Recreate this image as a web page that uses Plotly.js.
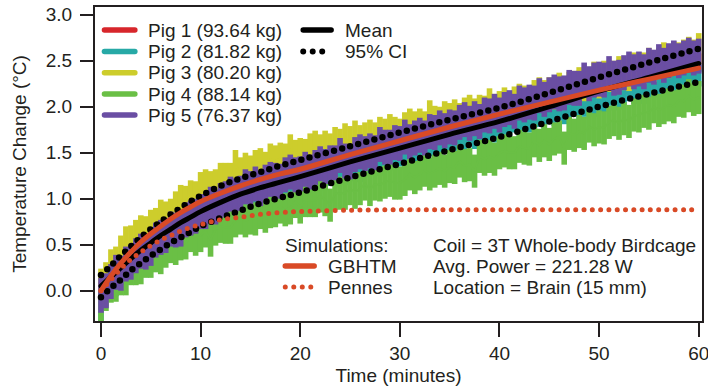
<!DOCTYPE html>
<html>
<head>
<meta charset="utf-8">
<script src="https://cdn.plot.ly/plotly-3.0.1.min.js"></script>
<style>
html,body{margin:0;padding:0;background:#fff;}
#chart{width:708px;height:389px;}
.scatterlayer .js-line{stroke-linecap:round;}
.shapelayer path{stroke-linecap:round;}
</style>
</head>
<body>
<div id="chart"></div>
<script>
// time grid of the measured pig data (minutes)
const timePig = [0,0.5,1,1.5,2,2.5,3,3.5,4,4.5,5,5.5,6,6.5,7,7.5,8,8.5,9,9.5,
10,10.5,11,11.5,12,12.5,13,13.5,14,14.5,15,15.5,16,16.5,17,17.5,18,18.5,19,19.5,
20,20.5,21,21.5,22,22.5,23,23.5,24,24.5,25,25.5,26,26.5,27,27.5,28,28.5,29,29.5,
30,30.5,31,31.5,32,32.5,33,33.5,34,34.5,35,35.5,36,36.5,37,37.5,38,38.5,39,39.5,
40,40.5,41,41.5,42,42.5,43,43.5,44,44.5,45,45.5,46,46.5,47,47.5,48,48.5,49,49.5,
50,50.5,51,51.5,52,52.5,53,53.5,54,54.5,55,55.5,56,56.5,57,57.5,58,58.5,59,59.5,60];

const pig1 = [-0.01,0.04,0.16,0.16,0.26,0.30,0.38,0.38,0.43,0.52,
0.49,0.58,0.61,0.63,0.70,0.69,0.70,0.79,0.81,0.82,
0.89,0.87,0.92,0.98,0.94,1.01,1.00,1.05,1.08,1.05,
1.12,1.11,1.17,1.13,1.18,1.22,1.18,1.22,1.26,1.22,
1.28,1.28,1.34,1.30,1.30,1.36,1.41,1.37,1.41,1.37,
1.45,1.47,1.45,1.45,1.52,1.50,1.50,1.58,1.54,1.58,
1.55,1.61,1.63,1.59,1.67,1.65,1.68,1.67,1.74,1.71,
1.73,1.72,1.78,1.81,1.77,1.82,1.78,1.86,1.84,1.90,
1.87,1.94,1.89,1.93,1.95,1.93,1.99,1.98,2.03,2.00,
1.98,2.06,2.09,2.07,2.11,2.08,2.17,2.14,2.14,2.20,
2.18,2.22,2.19,2.24,2.28,2.24,2.28,2.28,2.35,2.30,
2.33,2.37,2.32,2.38,2.41,2.39,2.38,2.45,2.48,2.45,
2.48];

const pig2 = [-0.21,-0.05,0.05,0.06,0.19,0.20,0.27,0.29,0.39,0.38,
0.43,0.44,0.53,0.58,0.56,0.63,0.61,0.70,0.70,0.77,
0.76,0.84,0.80,0.85,0.88,0.86,0.93,0.92,0.98,0.95,
0.94,1.01,1.05,1.03,1.07,1.04,1.13,1.10,1.10,1.15,
1.14,1.19,1.15,1.21,1.24,1.21,1.26,1.25,1.33,1.27,
1.31,1.35,1.30,1.36,1.39,1.37,1.37,1.43,1.47,1.43,
1.47,1.45,1.52,1.47,1.53,1.53,1.58,1.54,1.57,1.63,
1.58,1.64,1.65,1.64,1.70,1.66,1.66,1.73,1.74,1.73,
1.79,1.75,1.79,1.84,1.79,1.85,1.84,1.87,1.90,1.86,
1.93,1.91,1.97,1.93,1.98,2.01,1.98,2.01,2.05,2.01,
2.07,2.06,2.13,2.08,2.09,2.14,2.18,2.15,2.18,2.15,
2.22,2.24,2.22,2.22,2.28,2.27,2.26,2.34,2.29,2.34,
2.34];

const pig3 = [0.07,0.14,0.28,0.31,0.43,0.53,0.54,0.60,0.65,0.64,
0.71,0.73,0.82,0.80,0.83,0.91,0.98,0.97,1.03,1.02,
1.12,1.15,1.13,1.15,1.22,1.22,1.22,1.36,1.28,1.33,
1.30,1.36,1.38,1.34,1.43,1.41,1.44,1.43,1.53,1.47,
1.49,1.48,1.54,1.57,1.53,1.57,1.54,1.61,1.59,1.65,
1.62,1.68,1.63,1.66,1.69,1.66,1.72,1.70,1.75,1.72,
1.70,1.77,1.81,1.78,1.81,1.78,1.90,1.84,1.83,1.89,
1.87,1.91,1.87,1.93,1.96,1.92,1.96,1.95,2.03,1.97,
2.00,2.04,1.99,2.05,2.08,2.06,2.05,2.12,2.15,2.12,
2.15,2.14,2.20,2.16,2.21,2.22,2.26,2.23,2.25,2.32,
2.26,2.33,2.33,2.33,2.38,2.35,2.34,2.42,2.42,2.42,
2.47,2.44,2.47,2.53,2.48,2.54,2.53,2.56,2.59,2.56,
2.63];

const pig4 = [-0.17,-0.04,0.05,0.06,0.13,0.13,0.24,0.24,0.25,0.32,
0.32,0.38,0.36,0.43,0.48,0.46,0.51,0.52,0.60,0.56,
0.60,0.65,0.55,0.67,0.70,0.69,0.69,0.76,0.79,0.76,
0.79,0.78,0.85,0.81,0.86,0.87,0.91,0.88,0.90,0.97,
0.91,0.98,0.98,0.98,1.03,0.99,0.93,1.06,1.06,1.06,
1.11,1.07,1.11,1.16,1.10,1.16,1.15,1.18,1.20,1.17,
1.17,1.21,1.27,1.23,1.27,1.31,1.27,1.30,1.33,1.30,
1.35,1.34,1.41,1.36,1.37,1.30,1.46,1.43,1.46,1.43,
1.50,1.52,1.50,1.50,1.57,1.55,1.54,1.63,1.58,1.63,
1.59,1.65,1.67,1.55,1.71,1.69,1.73,1.71,1.79,1.75,
1.78,1.77,1.83,1.86,1.82,1.87,1.84,1.91,1.90,1.95,
1.93,2.00,1.96,1.99,2.02,2.00,2.07,2.06,2.12,2.08,
2.10];

const pig5 = [-0.05,0.00,0.10,0.20,0.19,0.29,0.31,0.38,0.43,0.42,
0.46,0.55,0.58,0.60,0.67,0.66,0.67,0.77,0.79,0.81,
0.86,0.86,0.94,0.91,0.98,1.00,1.05,1.03,1.06,1.13,
1.11,1.16,1.11,1.18,1.21,1.20,1.19,1.26,1.29,1.26,
1.27,1.32,1.29,1.34,1.38,1.35,1.39,1.39,1.47,1.41,
1.40,1.48,1.51,1.49,1.52,1.50,1.59,1.56,1.56,1.61,
1.60,1.67,1.62,1.66,1.69,1.66,1.73,1.72,1.77,1.74,
1.78,1.77,1.83,1.86,1.82,1.87,1.84,1.91,1.90,1.95,
1.91,1.97,1.99,1.95,2.04,2.02,2.05,2.04,2.12,2.08,
2.13,2.16,2.14,2.15,2.21,2.20,2.20,2.29,2.25,2.29,
2.30,2.29,2.36,2.31,2.32,2.37,2.41,2.38,2.41,2.38,
2.45,2.43,2.49,2.45,2.50,2.53,2.50,2.53,2.56,2.53,
2.55];

// smooth curves (statistics and simulations)
const timeFit = [0,1,2,3,4,5,6,7,8,9,10,12,14,16,18,20,25,30,35,40,45,50,55,60];
const meanCurve = [0.05,0.15,0.25,0.35,0.44,0.52,0.60,0.67,0.74,0.80,0.86,0.96,1.05,1.12,1.18,1.24,1.40,1.55,1.70,1.84,2.00,2.17,2.32,2.47];
const ciUpper = [0.17,0.27,0.38,0.48,0.58,0.67,0.75,0.83,0.90,0.97,1.03,1.14,1.22,1.29,1.36,1.42,1.57,1.72,1.86,1.99,2.15,2.32,2.48,2.63];
const ciLower = [-0.07,0.03,0.12,0.22,0.30,0.38,0.45,0.52,0.58,0.64,0.70,0.79,0.87,0.95,1.01,1.07,1.23,1.38,1.53,1.67,1.84,2.00,2.14,2.27];
const gbhtm = [0.00,0.16,0.30,0.42,0.53,0.62,0.70,0.78,0.85,0.91,0.97,1.06,1.14,1.21,1.27,1.32,1.48,1.63,1.78,1.92,2.05,2.18,2.30,2.42];
const pennes = [0.00,0.12,0.24,0.34,0.42,0.49,0.55,0.60,0.65,0.69,0.72,0.77,0.80,0.83,0.85,0.86,0.875,0.88,0.88,0.88,0.88,0.88,0.88,0.88];

const pigNames = ['Pig 1 (93.64 kg)','Pig 2 (81.82 kg)','Pig 3 (80.20 kg)','Pig 4 (88.14 kg)','Pig 5 (76.37 kg)'];
const pigColors = ['#d7262b','#27a9a6','#cdcd2c','#6abf45','#6a4ea3'];
const pigSpread = [0.10,0.12,0.17,0.18,0.19];
const pigData = [pig1,pig2,pig3,pig4,pig5];
const xTicks = [0,10,20,30,40,50,60];
const yTicks = [0,0.5,1,1.5,2,2.5,3];
const simColor = '#d94a26';
const textColor = '#231f20';

const traces = [];
pigData.forEach((vals,i)=>{
  traces.push({
    x: timePig, y: vals, type:'scatter', mode:'lines', name: pigNames[i],
    line:{color:pigColors[i], width:2},
    error_y:{type:'constant', value:pigSpread[i], symmetric:true, color:pigColors[i], thickness:5.6, width:0},
    hoverinfo:'skip'
  });
});
traces.push({x:timeFit, y:meanCurve, type:'scatter', mode:'lines', name:'Mean',
  line:{color:'#000', width:5, shape:'spline'}});
traces.push({x:timeFit, y:ciUpper, type:'scatter', mode:'lines', name:'95% CI',
  line:{color:'#000', width:6.5, shape:'spline', dash:'0px,8.4px'}});
traces.push({x:timeFit, y:ciLower, type:'scatter', mode:'lines', name:'95% CI low',
  line:{color:'#000', width:6.5, shape:'spline', dash:'0px,8.4px'}});
traces.push({x:timeFit, y:gbhtm, type:'scatter', mode:'lines', name:'GBHTM',
  line:{color:simColor, width:5, shape:'spline'}});
traces.push({x:timeFit, y:pennes, type:'scatter', mode:'lines', name:'Pennes',
  line:{color:simColor, width:5, shape:'spline', dash:'0px,8.3px'}});

// legend built from shapes + annotations (data-coordinate placement)
const fontSize = 19;
const shapes = [];
const annotations = [];
const pigRowsY = [2.834,2.600,2.370,2.138,1.910];
pigNames.forEach((n,i)=>{
  shapes.push({type:'line', xref:'x', yref:'y', x0:0.35, x1:3.4, y0:pigRowsY[i], y1:pigRowsY[i],
    line:{color:pigColors[i], width:5.5}});
  annotations.push({xref:'x', yref:'y', x:4.5, y:pigRowsY[i], text:n, showarrow:false,
    xanchor:'left', yanchor:'middle', font:{size:fontSize, color:textColor}});
});
shapes.push({type:'line', xref:'x', yref:'y', x0:20.3, x1:23.1, y0:2.834, y1:2.834, line:{color:'#000', width:5.5}});
shapes.push({type:'line', xref:'x', yref:'y', x0:20.3, x1:23.1, y0:2.600, y1:2.600, line:{color:'#000', width:6, dash:'0px,9.5px'}});
annotations.push({xref:'x', yref:'y', x:24.3, y:2.834, text:'Mean', showarrow:false, xanchor:'left', yanchor:'middle', font:{size:fontSize, color:textColor}});
annotations.push({xref:'x', yref:'y', x:24.3, y:2.600, text:'95% CI', showarrow:false, xanchor:'left', yanchor:'middle', font:{size:fontSize, color:textColor}});

annotations.push({xref:'x', yref:'y', x:18.3, y:0.497, text:'Simulations:', showarrow:false, xanchor:'left', yanchor:'middle', font:{size:fontSize, color:textColor}});
shapes.push({type:'line', xref:'x', yref:'y', x0:18.5, x1:21.4, y0:0.268, y1:0.268, line:{color:simColor, width:5.5}});
shapes.push({type:'line', xref:'x', yref:'y', x0:18.5, x1:21.3, y0:0.040, y1:0.040, line:{color:simColor, width:5, dash:'0px,8.5px'}});
annotations.push({xref:'x', yref:'y', x:22.6, y:0.268, text:'GBHTM', showarrow:false, xanchor:'left', yanchor:'middle', font:{size:fontSize, color:textColor}});
annotations.push({xref:'x', yref:'y', x:22.6, y:0.040, text:'Pennes', showarrow:false, xanchor:'left', yanchor:'middle', font:{size:fontSize, color:textColor}});
annotations.push({xref:'x', yref:'y', x:33.1, y:0.497, text:'Coil = 3T Whole-body Birdcage', showarrow:false, xanchor:'left', yanchor:'middle', font:{size:fontSize, color:textColor}});
annotations.push({xref:'x', yref:'y', x:33.1, y:0.268, text:'Avg. Power = 221.28 W', showarrow:false, xanchor:'left', yanchor:'middle', font:{size:fontSize, color:textColor}});
annotations.push({xref:'x', yref:'y', x:33.1, y:0.040, text:'Location = Brain (15 mm)', showarrow:false, xanchor:'left', yanchor:'middle', font:{size:fontSize, color:textColor}});

const layout = {
  width:708, height:389,
  margin:{l:95, r:6, t:7, b:68},
  paper_bgcolor:'#fff', plot_bgcolor:'#fff',
  showlegend:false,
  font:{family:'"Liberation Sans", Arial, sans-serif', size:19, color:textColor},
  xaxis:{range:[-0.6,60.33], tickvals:xTicks, ticktext:xTicks.map(String), ticks:'outside', ticklen:14, tickwidth:2,
    tickcolor:textColor, showline:true, linewidth:2, linecolor:textColor, mirror:true, showgrid:false, zeroline:false,
    ticklabeloverflow:'allow',
    tickfont:{size:19}, title:{text:'Time (minutes)', font:{size:19}, standoff:6}},
  yaxis:{range:[-0.329,3.084], tickvals:yTicks, ticktext:yTicks.map(v=>v.toFixed(1)), ticks:'outside', ticklen:13, tickwidth:2,
    tickcolor:textColor, showline:true, linewidth:2, linecolor:textColor, mirror:true, showgrid:false, zeroline:false,
    ticklabelstandoff:4,
    tickfont:{size:19}, title:{text:'Temperature Change (°C)', font:{size:19}, standoff:14}},
  shapes:shapes, annotations:annotations
};
Plotly.newPlot('chart', traces, layout, {staticPlot:true, displayModeBar:false});
</script>
</body>
</html>
